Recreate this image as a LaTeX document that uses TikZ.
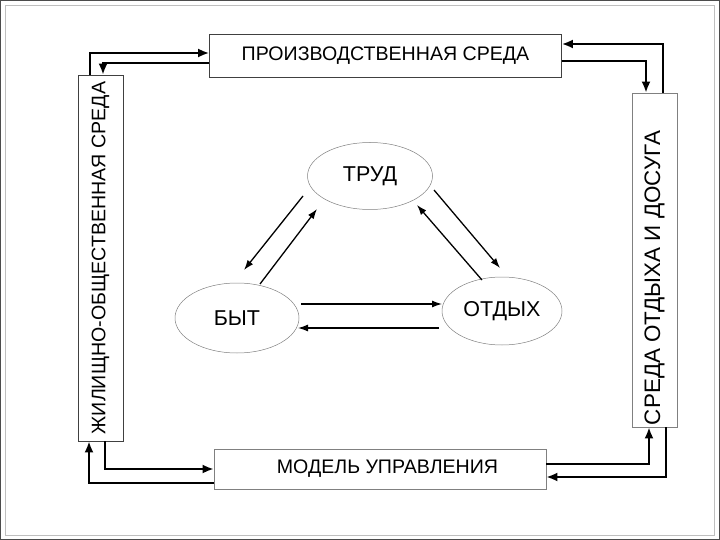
\documentclass[tikz,border=0pt]{standalone}
\usepackage{fontspec}
\setmainfont{Liberation Sans}
\usetikzlibrary{arrows.meta,shapes.geometric,calc}
\begin{document}
\begin{tikzpicture}[x=1pt,y=-1pt,
  envbox/.style={draw=black!75,line width=0.8pt,rectangle,inner sep=0pt,fill=white},
  vbox/.style={envbox,rotate=90},
  lifeell/.style={draw=black!50,line width=0.5pt,ellipse,inner sep=0pt,font=\fontsize{21.5}{24}\selectfont},
  outarrow/.style={line width=2pt,-{Latex[length=11pt,width=9pt]}},
  inarrow/.style={line width=1.3pt,-{Latex[length=10pt,width=7pt]}}]
\useasboundingbox (0,0) rectangle (720,540);
\draw[black!70,line width=2pt] (0,0) rectangle (720,540);
\draw[black!25,line width=0.5pt] (5,5) rectangle (714,535);
% boxes
\node[envbox,minimum width=352pt,minimum height=43pt,font=\fontsize{19.6}{22}\selectfont] (T) at (385.5,55.5) {ПРОИЗВОДСТВЕННАЯ СРЕДА};
\node[envbox,draw=black!50,minimum width=332pt,minimum height=40pt,font=\fontsize{19.6}{22}\selectfont] (B) at (380,469) {\hspace*{15pt}МОДЕЛЬ УПРАВЛЕНИЯ};
\node[vbox,minimum width=366pt,minimum height=45pt,font=\fontsize{19.6}{22}\selectfont] (L) at (100.5,258) {ЖИЛИЩНО-ОБЩЕСТВЕННАЯ СРЕДА};
\node[vbox,draw=black!50,minimum width=334pt,minimum height=45pt,font=\fontsize{22.4}{26}\selectfont] (R) at (654.5,260) {СРЕДА ОТДЫХА И ДОСУГА\hspace*{36pt}};
% ellipses
\node[lifeell,minimum width=125pt,minimum height=67pt] (Tr) at (370,176) {ТРУД};
\node[lifeell,minimum width=124pt,minimum height=70pt] (By) at (237,318) {БЫТ};
\node[lifeell,minimum width=120pt,minimum height=68pt] (Ot) at (502,311) {ОТДЫХ};
% outer connectors
\draw[outarrow] ([xshift=-10.5pt]L.east) |- ([yshift=2.5pt]T.west);
\draw[outarrow] ([yshift=-7.5pt]T.west) -| ([xshift=2.5pt]L.east);
\draw[outarrow] ([xshift=8.5pt]R.east) |- ([yshift=11.5pt]T.east);
\draw[outarrow] ([yshift=-5.5pt]T.east) -| ([xshift=-8.5pt]R.east);
\draw[outarrow] ([yshift=5pt]B.east) -| ([xshift=-5.5pt]R.west);
\draw[outarrow] ([xshift=11.5pt]R.west) |- ([yshift=-8pt]B.east);
\draw[outarrow] ([xshift=4.5pt]L.west) |- (B.west);
\draw[outarrow] ([yshift=-14pt]B.west) -| ([xshift=-11.5pt]L.west);
% inner connectors
\draw[inarrow] ($(Tr)+(-67,20)$) -- ($(By)+(7,-48)$);
\draw[inarrow] ($(By)+(23,-34)$) -- ($(Tr)+(-53,33)$);
\draw[inarrow] ($(Tr)+(64,14)$) -- ($(Ot)+(-2,-43)$);
\draw[inarrow] ($(Ot)+(-20,-31)$) -- ($(Tr)+(47,29)$);
\draw[inarrow] ($(By)+(64,-14)$) -- ($(Ot)+(-60,-7)$);
\draw[inarrow] ($(Ot)+(-63,17)$) -- ($(By)+(61,10)$);
\end{tikzpicture}
\end{document}
